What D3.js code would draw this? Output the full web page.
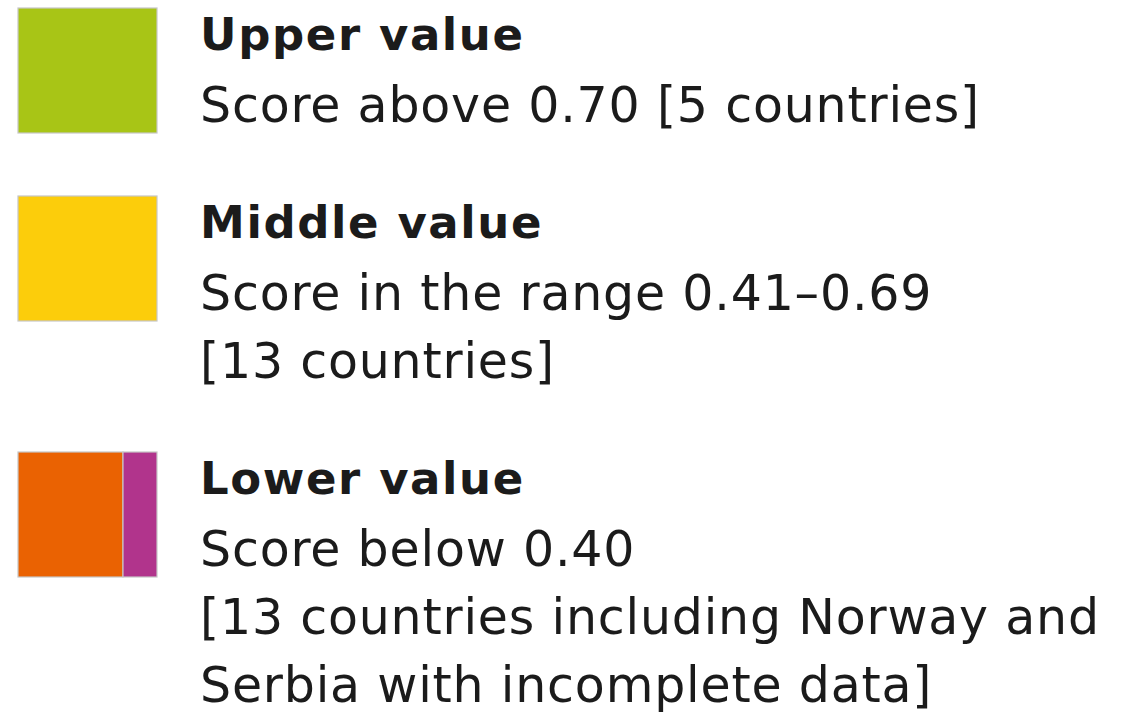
<!DOCTYPE html>
<html>
<head>
<meta charset="utf-8">
<script src="https://cdn.jsdelivr.net/npm/d3@7"></script>
<style>
  body { margin: 0; background: #fff; }
  svg { display: block; }
</style>
</head>
<body>
<svg id="chart"></svg>
<script>
const categories = ["Upper value", "Middle value", "Lower value"];
const descriptions = [
  ["Score above 0.70 [5 countries]"],
  ["Score in the range 0.41\u20130.69", "[13 countries]"],
  ["Score below 0.40", "[13 countries including Norway and", "Serbia with incomplete data]"]
];
const swatchColors = [["#a8c516"], ["#fccd0b"], ["#ea6202", "#b1348c"]];

function renderLegend() {
  const width = 1130, height = 715;
  const svg = d3.select("#chart").attr("width", width).attr("height", height);

  const fontFamily = "'DejaVu Sans', 'Noto Sans', sans-serif";
  const lineStep = 68;

  // cumulative top of each group
  let tops = [], y = 8;
  descriptions.forEach(lines => {
    tops.push(y);
    y += 120 + lines.length * lineStep;
  });

  const groups = svg.selectAll("g.item")
    .data(categories)
    .enter()
    .append("g")
    .attr("class", "item")
    .attr("transform", (d, i) => `translate(0,${tops[i]})`);

  // ===== SWATCHES =====
  const sw = { x: 18, w: 139, h: 125 };
  groups.each(function (d, i) {
    const g = d3.select(this);
    const cols = swatchColors[i];
    const split = cols.length > 1 ? [0, 105, sw.w] : [0, sw.w];
    cols.forEach((c, j) => {
      g.append("rect")
        .attr("x", sw.x + split[j])
        .attr("y", 0)
        .attr("width", split[j + 1] - split[j])
        .attr("height", sw.h)
        .attr("fill", c)
        .attr("stroke", "#c6c6c6")
        .attr("stroke-width", 1.2);
    });
  });

  // ===== TEXT =====
  groups.append("text")
    .attr("x", 200)
    .attr("y", 42)
    .attr("font-family", fontFamily)
    .attr("font-size", 45)
    .attr("font-weight", 700)
    .attr("letter-spacing", 1.6)
    .attr("fill", "#1b1b1b")
    .text(d => d);

  groups.each(function (d, i) {
    d3.select(this).selectAll("text.desc")
      .data(descriptions[i])
      .enter()
      .append("text")
      .attr("class", "desc")
      .attr("x", 200)
      .attr("y", (t, k) => 114 + k * lineStep)
      .attr("font-family", fontFamily)
      .attr("font-size", 49)
      .attr("letter-spacing", 0.8)
      .attr("fill", "#1b1b1b")
      .text(t => t);
  });
}

renderLegend();
</script>
</body>
</html>
